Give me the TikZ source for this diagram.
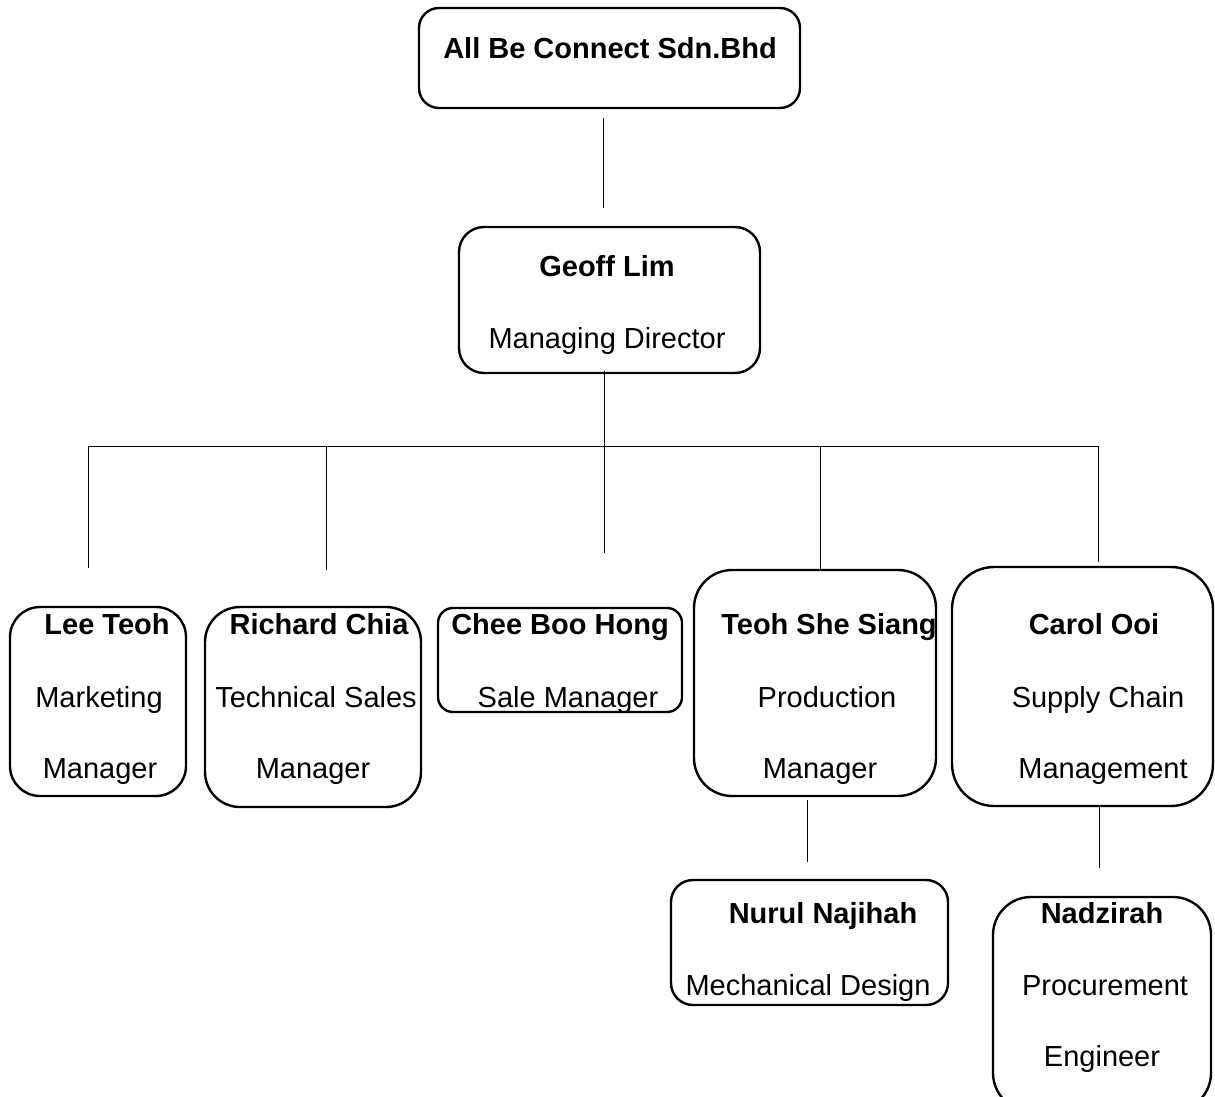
\documentclass[tikz,border=0pt]{standalone}
\usepackage{fontspec}
\setmainfont{Liberation Sans}
\begin{document}
\begin{tikzpicture}[x=1pt,y=-1pt,
  box/.style={draw, line width=2.4pt, rounded corners=#1, inner sep=0pt},
  conn/.style={draw, line width=1pt},
  nm/.style={anchor=base, inner sep=0pt, font=\fontsize{29}{34}\selectfont\bfseries},
  role/.style={anchor=base, inner sep=0pt, font=\fontsize{29}{34}\selectfont}]
\useasboundingbox[fill=white] (0,0) rectangle (1215,1097);

% boxes
\node[box=20pt, minimum width=381pt, minimum height=100pt] (top) at (609.5,58) {};
\node[box=25pt, minimum width=301pt, minimum height=146pt] (geoff) at (609.5,300) {};
\node[box=30pt, minimum width=176pt, minimum height=189pt] (lee) at (98,701.5) {};
\node[box=35pt, minimum width=216pt, minimum height=200pt] (richard) at (313,707) {};
\node[box=15pt, minimum width=244pt, minimum height=104pt] (chee) at (560,660) {};
\node[box=38pt, minimum width=242pt, minimum height=226pt] (teoh) at (815,683) {};
\node[box=42pt, minimum width=261pt, minimum height=239pt] (carol) at (1082.5,686.5) {};
\node[box=22pt, minimum width=277pt, minimum height=125pt] (nurul) at (809.5,942.5) {};
\node[box=38pt, minimum width=218pt, minimum height=214pt] (nadz) at (1102,1004) {};

% texts
\node[nm] (tTop) at (610,59) {All Be Connect Sdn.Bhd};
\node[nm] (tGeoff) at (607,276) {Geoff Lim};
\node[role] (rGeoff) at (607,348) {Managing Director};

\node[nm] (tLee) at (107,634) {Lee Teoh};
\node[role] (rLee1) at (99,707) {Marketing};
\node[role] (rLee2) at (100,778) {Manager};

\node[nm] (tRich) at (319,634) {Richard Chia};
\node[role] (rRich1) at (316,707) {Technical Sales};
\node[role] (rRich2) at (313,778) {Manager};

\node[nm] (tChee) at (560,634) {Chee Boo Hong};
\node[role] (rChee) at (568,707) {Sale Manager};

\node[nm] (tTeoh) at (829,634) {Teoh She Siang};
\node[role] (rTeoh1) at (827,707) {Production};
\node[role] (rTeoh2) at (820,778) {Manager};

\node[nm] (tCarol) at (1094,634) {Carol Ooi};
\node[role] (rCarol1) at (1098,707) {Supply Chain};
\node[role] (rCarol2) at (1103,778) {Management};

\node[nm] (tNurul) at (823,923) {Nurul Najihah};
\node[role] (rNurul) at (808,995) {Mechanical Design};

\node[nm] (tNadz) at (1102,923) {Nadzirah};
\node[role] (rNadz1) at (1105,995) {Procurement};
\node[role] (rNadz2) at (1102,1066) {Engineer};

% connector coordinates
\coordinate (a1) at (603,118);
\coordinate (a2) at (603,208);
\coordinate (g1) at (604,371);
\coordinate (g2) at (604,446);
\coordinate (hL) at (88,446);
\coordinate (hR) at (1098,446);
\coordinate (d1) at (88,568);
\coordinate (d2t) at (326,446);
\coordinate (d2) at (326,570);
\coordinate (d3) at (604,553);
\coordinate (d4t) at (820,446);
\coordinate (d4) at (820,570);
\coordinate (d5) at (1098,562);
\coordinate (e1) at (807,800);
\coordinate (e2) at (807,862);
\coordinate (f1) at (1099,806);
\coordinate (f2) at (1099,868);

\draw[conn] (a1) -- (a2);
\draw[conn] (g1) -- (g2);
\draw[conn] (hL) -- (hR);
\draw[conn] (hL) -- (d1);
\draw[conn] (d2t) -- (d2);
\draw[conn] (g2) -- (d3);
\draw[conn] (d4t) -- (d4);
\draw[conn] (hR) -- (d5);
\draw[conn] (e1) -- (e2);
\draw[conn] (f1) -- (f2);
\end{tikzpicture}
\end{document}
